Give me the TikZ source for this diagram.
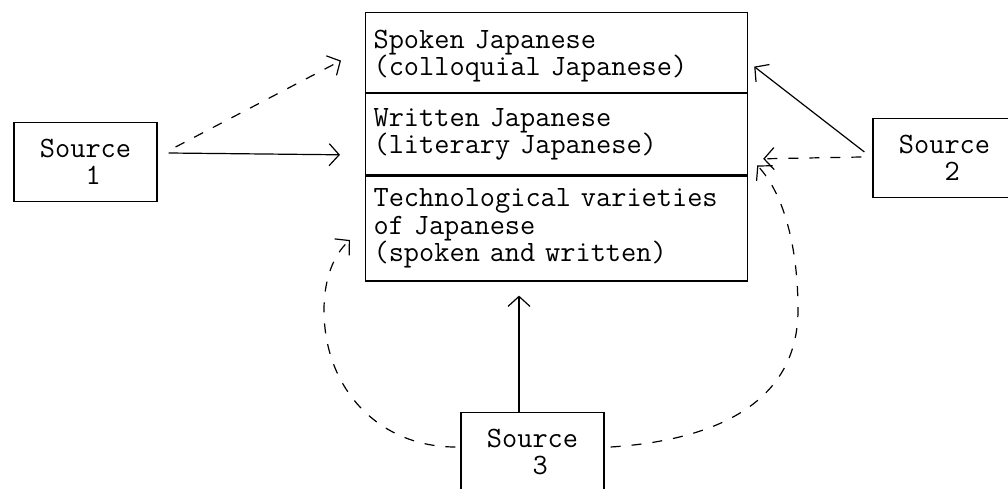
\documentclass[tikz,border=0pt]{standalone}
\usepackage{fontspec}
\usetikzlibrary{arrows.meta,calc}
% typewriter face, Latin Modern Mono
\newcommand\typeface{\ttfamily\fontsize{29.5}{27.5}\selectfont}
\begin{document}
\begin{tikzpicture}[x=1pt,y=-1pt,
  every node/.style={font=\typeface},
  part/.style={draw, line width=1.2pt, minimum width=382pt, text width=366pt,
    align=left, inner xsep=8pt, inner ysep=0pt, anchor=north west},
  srcbox/.style={draw, line width=1.2pt, minimum width=143pt, minimum height=79pt,
    align=left, inner sep=0pt},
  link/.style={line width=1.2pt, -{Straight Barb[length=10pt,width=22pt]}},
  dlink/.style={link, dash pattern=on 10pt off 11pt}]
\useasboundingbox (0,0) rectangle (1008,489);
\clip (0,0) rectangle (1008,489);

% stacked varieties of Japanese
\node[part, minimum height=80pt] (spoken) at (365,12)
  {\rule{0pt}{25pt}Spoken Japanese\\(colloquial Japanese)};
\node[part, minimum height=81pt] (written) at (spoken.south west)
  {Written Japanese\\(literary Japanese)};
\node[part, minimum height=105pt] (tech) at (written.south west)
  {Technological varieties\\of Japanese\\(spoken and written)};

% sources
\node[srcbox] (s1) at (85.5,162) {Source\\\hphantom{Sou}1};
\node[srcbox] (s2) at (944.5,158) {Source\\\hphantom{Sou}2};
\node[srcbox] (s3) at (532.5,452) {Source\\\hphantom{Sou}3};

% source 1
\draw[link] ($(s1.east)+(11,-9)$) -- ($(written.west)+(-25,20.5)$);
\draw[dlink] ($(s1.east)+(18,-15)$) -- ($(spoken.west)+(-24,8)$);

% source 2
\draw[link] ($(s2.west)+(-8,-6)$) -- ($(spoken.east)+(6,14)$);
\draw[dlink] ($(s2.west)+(-11,-1)$) -- ($(written.east)+(15,24.5)$);

% source 3
\draw[link] ($(s3.north)+(-13.5,0)$) -- ($(s3.north |- tech.south)+(-13.5,14)$);
\draw[dlink] ($(s3.west)+(-5,-5)$)
  .. controls (380,447) and (324,390) .. (324,310)
  .. controls (324,280) and (333,255) .. ($(tech.west)+(-15,11.5)$);
\draw[dlink] ($(s3.east)+(6,-5)$)
  .. controls (720,440) and (798,400) .. (798,310)
  .. controls (798,250) and (785,195) .. ($(written.south east)+(9,-10)$);
\end{tikzpicture}
\end{document}
